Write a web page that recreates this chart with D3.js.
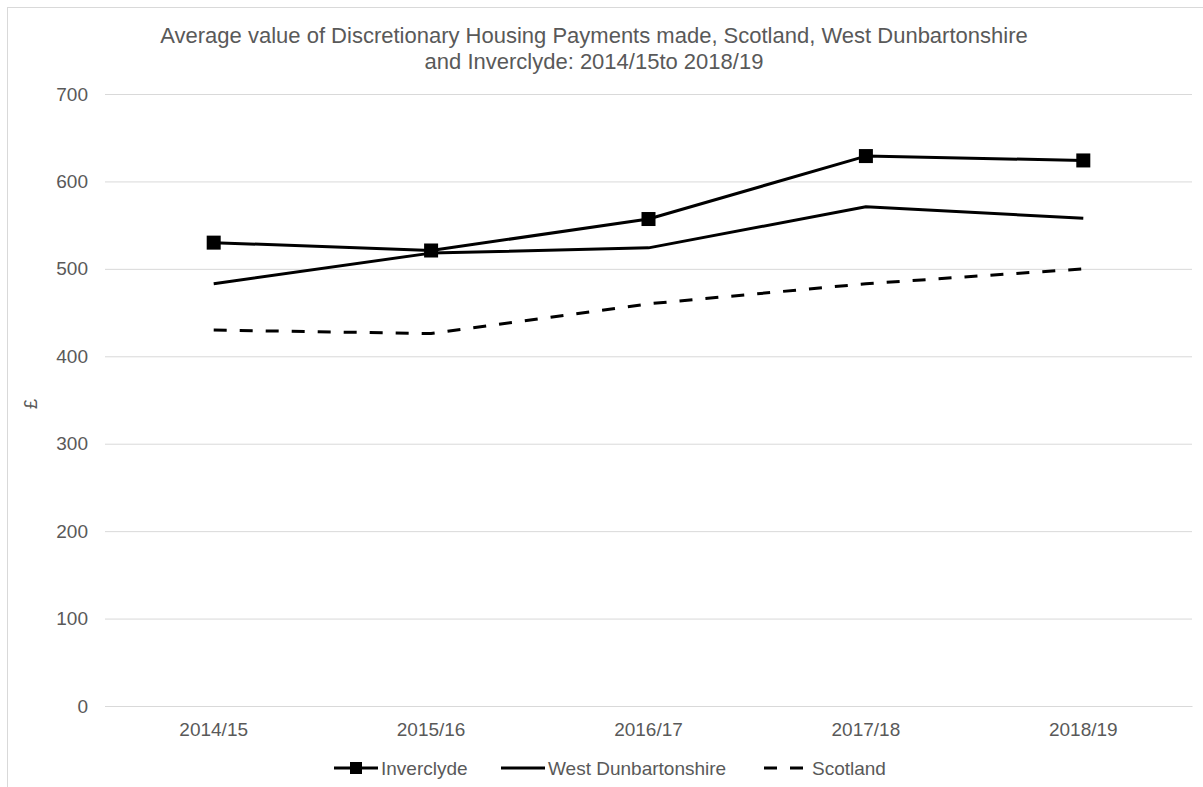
<!DOCTYPE html>
<html>
<head>
<meta charset="utf-8">
<script src="https://cdn.jsdelivr.net/npm/d3@7/dist/d3.min.js"></script>
<style>
  html, body { margin: 0; padding: 0; background: #fff; }
  svg text { font-family: "Liberation Sans", Arial, sans-serif; fill: #595959; }
</style>
</head>
<body>
<svg id="chart" width="1203" height="787"></svg>
<script>
// Financial years shown on the x axis
const years = ["2014/15", "2015/16", "2016/17", "2017/18", "2018/19"];

// Average DHP award (£) per year
const inverclyde = [530, 521, 557, 629, 624];
const westDunbartonshire = [483, 518, 524, 571, 558];
const scotland = [430, 426, 460, 483, 500];

const yTicks = [0, 100, 200, 300, 400, 500, 600, 700];

const titleLines = [
  "Average value of Discretionary Housing Payments made, Scotland, West Dunbartonshire",
  "and Inverclyde: 2014/15to 2018/19"
];

const series = [
  { name: "Inverclyde", values: inverclyde, dash: null, marker: true },
  { name: "West Dunbartonshire", values: westDunbartonshire, dash: null, marker: false },
  { name: "Scotland", values: scotland, dash: "13,13", marker: false }
];

const svg = d3.select("#chart");
const margin = { left: 105, right: 11, top: 94, bottom: 81 };
const W = 1203, H = 787;
const plotW = W - margin.left - margin.right;
const plotH = H - margin.top - margin.bottom;
const FONT = "Liberation Sans, Arial, sans-serif";

// Chart-area border
svg.append("rect")
  .attr("x", 7.5).attr("y", 7.5)
  .attr("width", 1300).attr("height", 900)
  .attr("fill", "none").attr("stroke", "#d9d9d9").attr("stroke-width", 1);

const g = svg.append("g").attr("transform", `translate(${margin.left},${margin.top})`);

const x = d3.scaleBand().domain(years).range([0, plotW]);
const y = d3.scaleLinear().domain([0, 700]).range([plotH, 0]);

// Gridlines + y labels
const yAxis = d3.axisLeft(y).tickValues(yTicks).tickSize(-plotW).tickPadding(17);
const ya = g.append("g").call(yAxis);
ya.select(".domain").remove();
ya.selectAll(".tick line").attr("stroke", "#d9d9d9").attr("stroke-width", 1);
ya.selectAll(".tick text").attr("font-size", 19).style("fill", "#595959")
  .attr("font-family", FONT);

// x axis baseline + labels
const xAxis = d3.axisBottom(x).tickSize(0).tickPadding(17);
const xa = g.append("g").attr("transform", `translate(0,${plotH})`).call(xAxis);
xa.select(".domain").attr("stroke", "#d9d9d9").attr("stroke-width", 1);
xa.selectAll(".tick text").attr("font-size", 19).style("fill", "#595959")
  .attr("font-family", FONT);

const cx = d => x(d) + x.bandwidth() / 2;

const line = d3.line()
  .x((v, i) => cx(years[i]))
  .y(v => y(v));

series.forEach(s => {
  g.append("path")
    .datum(s.values)
    .attr("d", line)
    .attr("fill", "none")
    .attr("stroke", "#000")
    .attr("stroke-width", 3)
    .attr("stroke-linejoin", "round")
    .attr("stroke-dasharray", s.dash);
  if (s.marker) {
    g.selectAll(null).data(s.values).enter().append("rect")
      .attr("x", (v, i) => cx(years[i]) - 7)
      .attr("y", v => y(v) - 7)
      .attr("width", 14).attr("height", 14)
      .attr("fill", "#000");
  }
});

// Title
svg.append("g").selectAll("text").data(titleLines).enter().append("text")
  .attr("x", 594)
  .attr("y", (d, i) => 43 + i * 26)
  .attr("text-anchor", "middle")
  .attr("font-size", 22)
  .text(d => d);

// Y axis title
svg.append("text")
  .attr("transform", "translate(37,404) rotate(-90)")
  .attr("text-anchor", "middle")
  .attr("font-size", 18)
  .text("£");

// Legend
const legendY = 768;
const legendX = [334, 501, 764];
series.forEach((s, i) => {
  const lx = legendX[i];
  const lg = svg.append("g");
  lg.append("line")
    .attr("x1", lx).attr("x2", lx + (s.dash ? 40 : 44))
    .attr("y1", legendY).attr("y2", legendY)
    .attr("stroke", "#000").attr("stroke-width", 3)
    .attr("stroke-dasharray", s.dash);
  if (s.marker) {
    lg.append("rect")
      .attr("x", lx + 22 - 6).attr("y", legendY - 6)
      .attr("width", 12).attr("height", 12).attr("fill", "#000");
  }
  lg.append("text")
    .attr("x", lx + (s.dash ? 48 : 47))
    .attr("y", legendY + 7)
    .attr("font-size", 19)
    .text(s.name);
});
</script>
</body>
</html>
